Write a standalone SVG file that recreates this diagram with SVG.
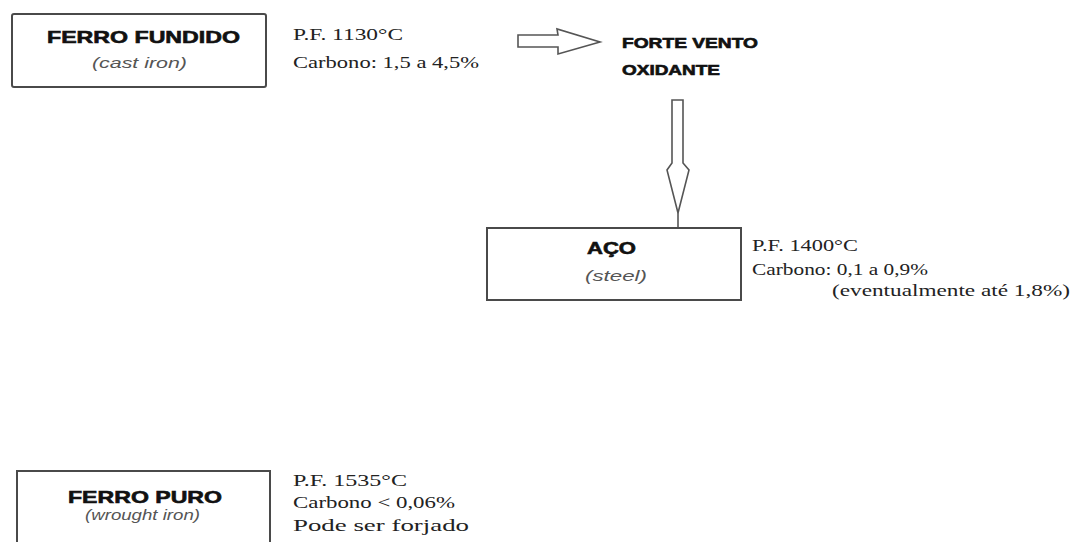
<svg xmlns="http://www.w3.org/2000/svg" width="1072" height="542" viewBox="0 0 1072 542">
<style>
.box{fill:#fff;stroke:#4a4a4a;stroke-width:2}
.arrow{fill:#fff;stroke:#555;stroke-width:1.6;stroke-linejoin:miter}
.title{font-family:"Liberation Sans",Arial,sans-serif;font-weight:bold;font-size:17px;fill:#111;stroke:#111;stroke-width:0.6}
.sub{font-family:"Liberation Sans",Arial,sans-serif;font-style:italic;font-size:14.5px;fill:#555}
.note{font-family:"Liberation Serif","Times New Roman",serif;font-size:17px;fill:#222}
.wind{font-family:"Liberation Sans",Arial,sans-serif;font-weight:bold;font-size:14px;fill:#111;stroke:#111;stroke-width:0.6}
</style>
<rect width="1072" height="542" fill="#fff"/>
<g id="connectors">
<polygon class="arrow" points="518,35 558,35 557,29 600,42 558,54 558,47 518,47"/>
<path class="arrow" d="M672,100 L683,100 L683,163 L689,170 L678,213 L667,170 L672,163 Z"/>
<line x1="678" y1="213" x2="678" y2="228" stroke="#555" stroke-width="1.6"/>
</g>
<g id="ferro-fundido">
<rect class="box" x="12" y="14" width="254" height="73" rx="2"/>
<text class="title" x="47" y="43" textLength="193" lengthAdjust="spacingAndGlyphs">FERRO FUNDIDO</text>
<text class="sub" x="92" y="68" textLength="95" lengthAdjust="spacingAndGlyphs">(cast iron)</text>
</g>
<g id="ferro-fundido-info">
<text class="note" x="293" y="40" textLength="110" lengthAdjust="spacingAndGlyphs">P.F. 1130°C</text>
<text class="note" x="293" y="68" textLength="186" lengthAdjust="spacingAndGlyphs">Carbono: 1,5 a 4,5%</text>
</g>
<g id="vento">
<text class="wind" x="622" y="48" textLength="136" lengthAdjust="spacingAndGlyphs">FORTE VENTO</text>
<text class="wind" x="622" y="75" textLength="98" lengthAdjust="spacingAndGlyphs">OXIDANTE</text>
</g>
<g id="aco">
<rect class="box" x="487" y="228" width="254" height="72"/>
<text class="title" x="587" y="254" textLength="49" lengthAdjust="spacingAndGlyphs">AÇO</text>
<text class="sub" x="585" y="281" textLength="62" lengthAdjust="spacingAndGlyphs">(steel)</text>
</g>
<g id="aco-info">
<text class="note" x="752" y="251" textLength="106" lengthAdjust="spacingAndGlyphs">P.F. 1400°C</text>
<text class="note" x="752" y="275" textLength="176" lengthAdjust="spacingAndGlyphs">Carbono: 0,1 a 0,9%</text>
<text class="note" x="832" y="296" textLength="238" lengthAdjust="spacingAndGlyphs">(eventualmente até 1,8%)</text>
</g>
<g id="ferro-puro">
<rect class="box" x="17" y="471" width="253" height="90"/>
<text class="title" x="68" y="503" textLength="154" lengthAdjust="spacingAndGlyphs">FERRO PURO</text>
<text class="sub" x="85" y="520" textLength="115" lengthAdjust="spacingAndGlyphs">(wrought iron)</text>
</g>
<g id="ferro-puro-info">
<text class="note" x="293" y="486" textLength="114" lengthAdjust="spacingAndGlyphs">P.F. 1535°C</text>
<text class="note" x="293" y="508" textLength="162" lengthAdjust="spacingAndGlyphs">Carbono &lt; 0,06%</text>
<text class="note" x="293" y="531" textLength="176" lengthAdjust="spacingAndGlyphs">Pode ser forjado</text>
</g>
</svg>
